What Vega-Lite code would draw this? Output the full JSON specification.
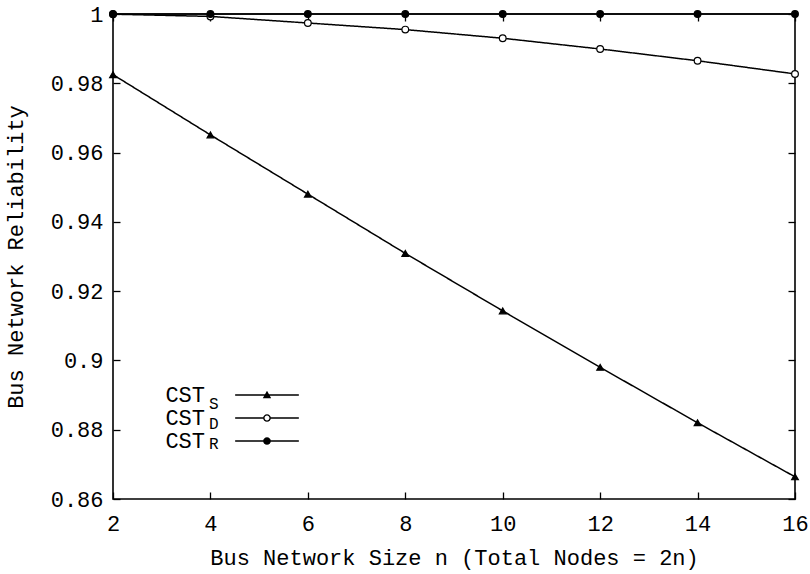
{
  "$schema": "https://vega.github.io/schema/vega-lite/v6.json",
  "width": 682,
  "height": 485,
  "autosize": "none",
  "padding": {"left": 113, "top": 14, "right": 15, "bottom": 75},
  "background": "white",
  "config": {
    "view": {"stroke": "black", "strokeWidth": 1.6},
    "font": "Liberation Mono",
    "axis": {
      "labelFont": "Liberation Mono",
      "titleFont": "Liberation Mono",
      "labelFontSize": 22,
      "titleFontSize": 22,
      "titleFontWeight": "normal",
      "labelColor": "black",
      "titleColor": "black",
      "tickColor": "black",
      "tickWidth": 1.3,
      "tickSize": -7,
      "grid": false,
      "domain": false,
      "labelFlush": false
    },
    "legend": {"padding": 0}
  },
  "data": {
    "values": [
      {"n": 2, "series": "CST_S", "sub": "S", "value": 0.9825},
      {"n": 4, "series": "CST_S", "sub": "S", "value": 0.9651},
      {"n": 6, "series": "CST_S", "sub": "S", "value": 0.948},
      {"n": 8, "series": "CST_S", "sub": "S", "value": 0.9309},
      {"n": 10, "series": "CST_S", "sub": "S", "value": 0.9143},
      {"n": 12, "series": "CST_S", "sub": "S", "value": 0.898},
      {"n": 14, "series": "CST_S", "sub": "S", "value": 0.882},
      {"n": 16, "series": "CST_S", "sub": "S", "value": 0.8664},
      {"n": 2, "series": "CST_D", "sub": "D", "value": 0.99995},
      {"n": 4, "series": "CST_D", "sub": "D", "value": 0.9993},
      {"n": 6, "series": "CST_D", "sub": "D", "value": 0.9974},
      {"n": 8, "series": "CST_D", "sub": "D", "value": 0.9955},
      {"n": 10, "series": "CST_D", "sub": "D", "value": 0.993},
      {"n": 12, "series": "CST_D", "sub": "D", "value": 0.9899},
      {"n": 14, "series": "CST_D", "sub": "D", "value": 0.9865},
      {"n": 16, "series": "CST_D", "sub": "D", "value": 0.9827},
      {"n": 2, "series": "CST_R", "sub": "R", "value": 1.0},
      {"n": 4, "series": "CST_R", "sub": "R", "value": 1.0},
      {"n": 6, "series": "CST_R", "sub": "R", "value": 1.0},
      {"n": 8, "series": "CST_R", "sub": "R", "value": 1.0},
      {"n": 10, "series": "CST_R", "sub": "R", "value": 1.0},
      {"n": 12, "series": "CST_R", "sub": "R", "value": 1.0},
      {"n": 14, "series": "CST_R", "sub": "R", "value": 1.0},
      {"n": 16, "series": "CST_R", "sub": "R", "value": 1.0}
    ]
  },
  "layer": [
    {
      "mark": {"type": "line", "color": "black", "strokeWidth": 1.5, "clip": false},
      "encoding": {
        "x": {
          "field": "n", "type": "quantitative",
          "scale": {"domain": [2, 16], "nice": false, "zero": false},
          "axis": {"orient": "bottom", "values": [2, 4, 6, 8, 10, 12, 14, 16], "title": "Bus Network Size n (Total Nodes = 2n)", "labelPadding": 21, "titlePadding": 13}
        },
        "y": {
          "field": "value", "type": "quantitative",
          "scale": {"domain": [0.86, 1], "nice": false, "zero": false},
          "axis": {"orient": "left", "values": [0.86, 0.88, 0.9, 0.92, 0.94, 0.96, 0.98, 1], "format": ".2~f", "title": "Bus Network Reliability", "labelPadding": 17, "titlePadding": 23}
        },
        "detail": {"field": "series"},
        "strokeDash": {
          "field": "sub", "type": "nominal", "sort": ["S", "D", "R"],
          "scale": {"range": [[1, 0], [1, 0], [1, 0]]},
          "legend": {
            "title": null, "orient": "none", "legendX": 74, "legendY": 379,
            "symbolSize": 484, "symbolOpacity": 0, "symbolStrokeWidth": 0,
            "labelFont": "Liberation Mono", "labelFontSize": 16, "labelColor": "black",
            "labelOffset": 0, "rowPadding": 1
          }
        }
      }
    },
    {
      "transform": [{"filter": "false"}],
      "mark": {"type": "point", "filled": true, "color": "black", "stroke": "black", "strokeWidth": 1, "size": 49, "clip": false},
      "encoding": {
        "x": {"field": "n", "type": "quantitative", "axis": null},
        "y": {"field": "value", "type": "quantitative", "axis": null},
        "shape": {
          "field": "series", "type": "nominal",
          "scale": {
            "domain": ["CST_S", "CST_D", "CST_R"],
            "range": [
              "M-9.1,-0.2L9.1,-0.2L9.1,0.2L-9.1,0.2ZM0,-1.2L1.2,0.9L-1.2,0.9Z",
              "M-9.1,-0.2L-1,-0.2L-1,0.2L-9.1,0.2ZM1,-0.2L9.1,-0.2L9.1,0.2L1,0.2ZM1.1,0A1.1,1.1,0,1,1,-1.1,0A1.1,1.1,0,1,1,1.1,0ZM0.7,0A0.7,0.7,0,1,0,-0.7,0A0.7,0.7,0,1,0,0.7,0Z",
              "M-9.1,-0.2L9.1,-0.2L9.1,0.2L-9.1,0.2ZM1.1,0A1.1,1.1,0,1,1,-1.1,0A1.1,1.1,0,1,1,1.1,0Z"
            ]
          },
          "legend": {
            "title": null, "orient": "none", "legendX": 143, "legendY": 370,
            "symbolSize": 49, "symbolStrokeColor": "black", "symbolFillColor": "black", "symbolStrokeWidth": 1, "symbolOpacity": 1,
            "labelFont": "Liberation Mono", "labelFontSize": 22, "labelColor": "black",
            "labelAlign": "right", "labelOffset": -73, "rowPadding": 1,
            "labelExpr": "'CST'"
          }
        }
      }
    },
    {
      "mark": {"type": "point", "stroke": "black", "strokeWidth": 1.2, "opacity": 1, "size": 45, "clip": false},
      "encoding": {
        "x": {
          "field": "n", "type": "quantitative",
          "axis": {"orient": "top", "values": [2, 4, 6, 8, 10, 12, 14, 16], "labels": false, "title": null}
        },
        "y": {
          "field": "value", "type": "quantitative",
          "axis": {"orient": "right", "values": [0.86, 0.88, 0.9, 0.92, 0.94, 0.96, 0.98, 1], "labels": false, "title": null}
        },
        "shape": {
          "condition": {"test": "datum.series === 'CST_S'", "value": "triangle-up"},
          "value": "circle"
        },
        "fill": {
          "condition": {"test": "datum.series === 'CST_D'", "value": "white"},
          "value": "black"
        }
      }
    }
  ],
  "resolve": {"axis": {"x": "independent", "y": "independent"}}
}
